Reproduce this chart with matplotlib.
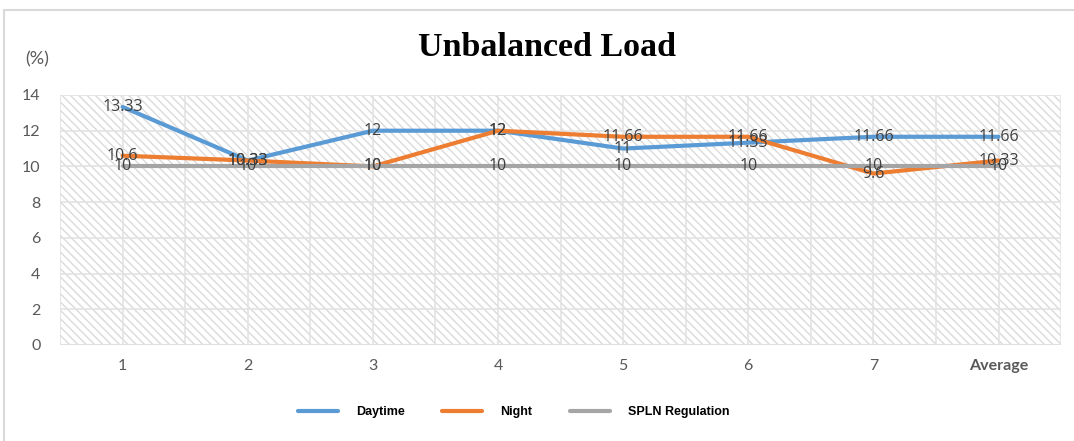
import matplotlib.pyplot as plt
from matplotlib.patches import Rectangle

categories = ['1', '2', '3', '4', '5', '6', '7', 'Average']
daytime = [13.33, 10.33, 12, 12, 11, 11.33, 11.66, 11.66]
night = [10.6, 10.33, 10, 12, 11.66, 11.66, 9.6, 10.33]
spln = [10, 10, 10, 10, 10, 10, 10, 10]

series = [('Daytime', daytime, '#5B9BD5'),
          ('Night', night, '#ED7D31'),
          ('SPLN Regulation', spln, '#A5A5A5')]

plt.rcParams['hatch.linewidth'] = 1.0
plt.rcParams['hatch.color'] = '#dadada'

fig = plt.figure(figsize=(10.74, 4.41), dpi=100)
ax = fig.add_axes([0.0559, 0.2177, 0.9321, 0.5669])

x = list(range(len(categories)))
for name, vals, col in series:
    ax.plot(x, vals, color=col, lw=3, label=name, solid_capstyle='round', zorder=3)
for name, vals, col in series:
    for xi, v in zip(x, vals):
        ax.text(xi, v, f'{v:g}', ha='center', va='center', fontsize=11.5,
                color='#404040', family='Open Sans', zorder=4)

ax.set_xlim(-0.5, len(categories) - 0.5)
ax.set_ylim(0, 14)
ax.set_yticks(range(0, 15, 2))
ax.set_xticks(x)
ax.set_xticks([i + 0.5 for i in range(-1, len(categories))], minor=True)
ax.set_xticklabels(categories)
for lbl in ax.get_xticklabels():
    if lbl.get_text() == 'Average':
        lbl.set_fontweight('bold')
        lbl.set_fontsize(9)
ax.tick_params(axis='both', which='both', length=0, labelsize=11.5,
               labelcolor='#595959', pad=10)
ax.tick_params(axis='y', pad=14)
for lbl in ax.get_xticklabels() + ax.get_yticklabels():
    lbl.set_family('Lato')

ax.patch.set_facecolor('white')
ax.patch.set_hatch('\\\\\\\\')
ax.patch.set_edgecolor('#dadada')
ax.grid(True, which='both', color='#e3e3e3', lw=1.2)
ax.set_axisbelow(True)
for s in ax.spines.values():
    s.set_visible(False)
ax.axhline(0, color='#e0e0e0', lw=1.5, zorder=2)

fig.text(0.509, 0.892, 'Unbalanced Load', ha='center', va='center',
         fontsize=24.5, fontweight='bold', family='Liberation Serif')
fig.text(0.035, 0.865, '(%)', ha='center', va='center', fontsize=13,
         color='#595959', family='Lato')

leg = fig.legend(loc='center', bbox_to_anchor=(0.478, 0.065), ncol=3, frameon=False,
                 handlelength=3.2, columnspacing=3.0, handletextpad=1.45,
                 prop={'family': 'Liberation Sans', 'weight': 'bold', 'size': 9})

fig.patches.append(Rectangle((4 / 1074, -0.01), 1.1, 1 - 10 / 441 + 0.01,
                             transform=fig.transFigure, fill=False,
                             edgecolor='#d9d9d9', lw=1.5))

fig.savefig('out.png', dpi=100)
